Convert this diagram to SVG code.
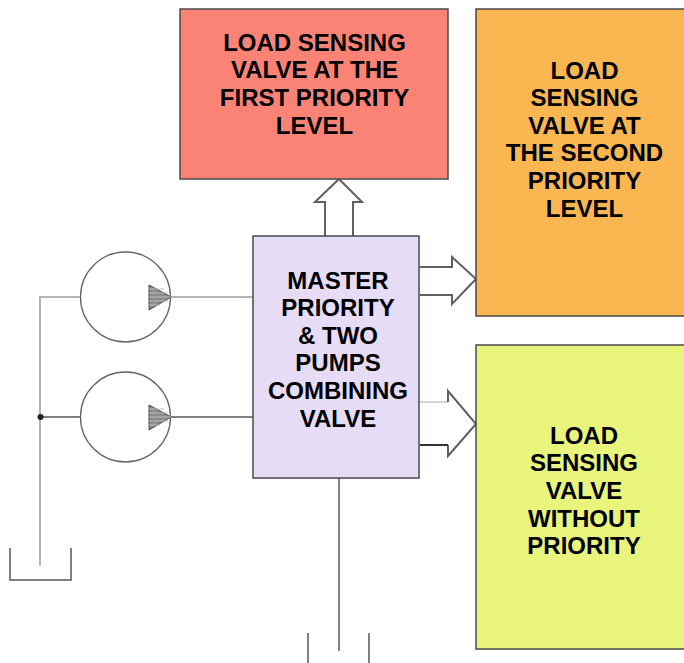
<svg xmlns="http://www.w3.org/2000/svg" width="684" height="663" viewBox="0 0 684 663">
<style>
.box{stroke:#4a4a4a;stroke-width:1.5}
.t{font-family:"Liberation Sans",Arial,sans-serif;font-weight:700;font-size:24px;text-anchor:middle;fill:#000}
.l{fill:none;stroke:#b4b4b4;stroke-width:2}
.d{fill:none;stroke:#808080;stroke-width:2}
.k{fill:none;stroke:#606060;stroke-width:2}
.c{fill:#fff;stroke:#666;stroke-width:1.3}
.h{fill:#8c8c8c;stroke:#444;stroke-width:1}
.s{stroke:#bbb;stroke-width:1}
</style>
<rect width="684" height="663" fill="#fff"/>
<g id="connectors">
<path class="l" d="M40 566V297H81"/>
<path class="l" d="M171 297H253"/>
<path class="d" d="M40 417H81M171 417H253"/>
<circle cx="40.500" cy="417" r="3" fill="#222"/>
<path class="d" d="M10 548V580H71V548" stroke-width="1.5"/>
<path class="d" d="M339 478V651M308 633V663M369 633V663"/>
<path class="k" d="M325 236V202H315L339 179L362 202H353V236"/>
<path class="k" d="M420 267H452V257L476 279L452 304V295H420"/>
<path fill="none" stroke="#aaa" stroke-width="1" d="M420 402H448"/>
<path class="k" d="M448 402V391L476 424L448 456V445"/>
<path fill="none" stroke="#333" stroke-width="2" d="M420 445H448"/>
</g>
<g id="pump-1">
<circle class="c" cx="125.500" cy="297" r="45"/>
<path class="h" d="M149 285L171 297L149 310Z"/>
<path class="s" d="M149 289H164M149 293H168M149 297H171M149 301H168M149 305H160"/>
</g>
<g id="pump-2">
<circle class="c" cx="125.500" cy="417" r="45"/>
<path class="h" d="M149 405L171 417L149 430Z"/>
<path class="s" d="M149 409H164M149 413H168M149 417H171M149 421H168M149 425H160"/>
</g>
<g id="first-priority">
<rect class="box" x="180" y="9" width="268" height="170" fill="#fb8375"/>
<text class="t" x="314.500" y="51">LOAD SENSING</text>
<text class="t" x="314.500" y="78">VALVE AT THE</text>
<text class="t" x="314.500" y="106">FIRST PRIORITY</text>
<text class="t" x="314.500" y="134">LEVEL</text>
</g>
<g id="second-priority">
<rect class="box" x="476" y="9" width="210" height="307" fill="#fab650"/>
<text class="t" x="584.500" y="79">LOAD</text>
<text class="t" x="584.500" y="106">SENSING</text>
<text class="t" x="584.500" y="134">VALVE AT</text>
<text class="t" x="584.500" y="161">THE SECOND</text>
<text class="t" x="584.500" y="189">PRIORITY</text>
<text class="t" x="584.500" y="217">LEVEL</text>
</g>
<g id="master">
<rect class="box" x="253" y="236" width="166" height="242" fill="#e6dcf5"/>
<text class="t" x="338" y="289">MASTER</text>
<text class="t" x="338" y="316">PRIORITY</text>
<text class="t" x="338" y="344">&amp; TWO</text>
<text class="t" x="338" y="371">PUMPS</text>
<text class="t" x="338" y="399">COMBINING</text>
<text class="t" x="338" y="427">VALVE</text>
</g>
<g id="no-priority">
<rect class="box" x="476" y="345" width="210" height="304" fill="#e9f47c"/>
<text class="t" x="584" y="444">LOAD</text>
<text class="t" x="584" y="471">SENSING</text>
<text class="t" x="584" y="499">VALVE</text>
<text class="t" x="584" y="527">WITHOUT</text>
<text class="t" x="584" y="554">PRIORITY</text>
</g>
</svg>
